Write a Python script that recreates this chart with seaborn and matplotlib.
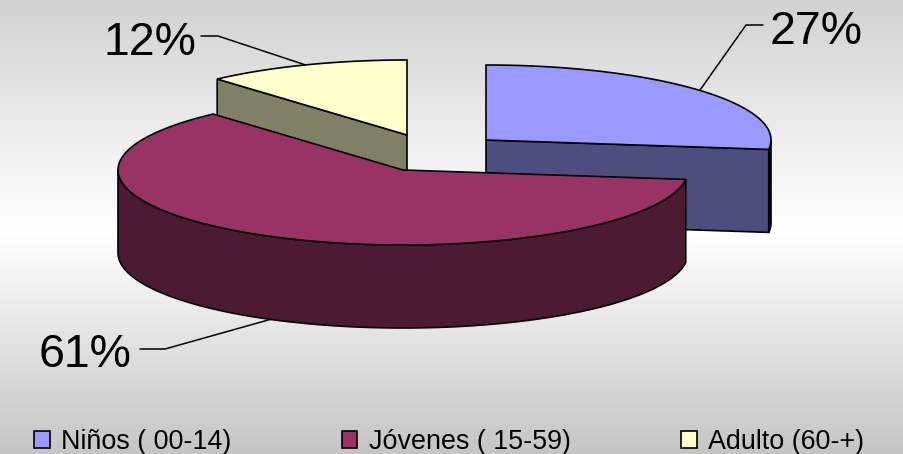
import numpy as np
import seaborn as sns
import matplotlib.pyplot as plt
from matplotlib.patches import Patch, Polygon

# datos
grupos = ['Niños ( 00-14)', 'Jóvenes ( 15-59)', 'Adulto (60-+)']
porcentajes = [27.0, 61.4, 11.6]
colores = ['#9999FF', '#993366', '#FFFFCC']

# geometria de la torta en pixeles
centros = [(486, 140), (403, 170), (407, 135)]
RX, RY, ALTO = 285, 75, 83


def punto(centro, ang):
    a = np.radians(ang)
    return centro[0] + RX * np.sin(a), centro[1] - RY * np.cos(a)


def arco(centro, a0, a1):
    angs = np.linspace(a0, a1, 120)
    return np.array([punto(centro, a) for a in angs])


def tapa(ax, centro, a0, a1, color, z):
    pts = np.vstack([[centro], arco(centro, a0, a1)])
    ax.add_patch(Polygon(pts, closed=True, fc=color, ec='black', lw=1.2, zorder=z))


def costado(ax, pts, color, z):
    # extruye una linea superior hacia abajo
    pts = np.asarray(pts)
    base = pts[::-1] + [0, ALTO]
    ax.add_patch(Polygon(np.vstack([pts, base]), closed=True, fc=color, ec='black', lw=1.2, zorder=z))


def oscuro(color):
    return tuple(c * 0.5 for c in color)


sns.set_theme(style='white')
plt.rcParams['font.family'] = ['Liberation Sans', 'DejaVu Sans']
paleta = sns.color_palette(colores)

fig = plt.figure(figsize=(9.04, 4.54), dpi=100)
ax = fig.add_axes([0, 0, 1, 1])
ax.set_xlim(0, 904)
ax.set_ylim(454, 0)
ax.axis('off')

# fondo degradado
yy = np.arange(454)
grad = np.interp(yy, [0, 230, 453], [0.82, 1.0, 0.77]).reshape(-1, 1)
ax.imshow(grad, cmap='gray', vmin=0, vmax=1, extent=(0, 904, 454, 0), aspect='auto', zorder=0)

# angulos de cada porcion, desde las 12 en sentido horario
fin = np.cumsum(porcentajes) * 3.6
ini = np.concatenate([[0], fin[:-1]])

# adulto (atras)
c = centros[2]
costado(ax, [c, punto(c, ini[2])], oscuro(paleta[2]), 2)
tapa(ax, c, ini[2], fin[2], paleta[2], 3)

# ninos
c = centros[0]
costado(ax, arco(c, 90, fin[0]), (0.05, 0.05, 0.1), 2)
costado(ax, [c, punto(c, fin[0])], oscuro(paleta[0]), 2)
tapa(ax, c, ini[0], fin[0], paleta[0], 3)

# jovenes (adelante)
c = centros[1]
costado(ax, arco(c, ini[1], 270), oscuro(paleta[1]), 4)
tapa(ax, c, ini[1], fin[1], paleta[1], 5)

# etiquetas con linea guia
medio = (ini + fin) / 2
ex, ey = punto(centros[0], medio[0])
ax.plot([763, 746, ex], [25, 25, ey], color='black', lw=1.1, zorder=6)
ax.text(770, 32, f'{porcentajes[0]:.0f}%', fontsize=33.5, color='black', ha='left', va='center', zorder=7)

ex, ey = punto(centros[1], medio[1])
ax.plot([140, 165, ex], [349, 349, ey + ALTO], color='black', lw=1.1, zorder=6)
ax.text(39, 355, f'{porcentajes[1]:.0f}%', fontsize=33.5, color='black', ha='left', va='center', zorder=7)

ex, ey = punto(centros[2], medio[2])
ax.plot([201, 218, ex], [36, 36, ey], color='black', lw=1.1, zorder=6)
ax.text(104, 43, f'{porcentajes[2]:.0f}%', fontsize=33.5, color='black', ha='left', va='center', zorder=7)

# leyenda
handles = [Patch(fc=col, ec='black', lw=1.2) for col in paleta]
ax.legend(handles, grupos, ncol=3, loc='lower left', bbox_to_anchor=(34, 455),
          bbox_transform=ax.transData, frameon=False, fontsize=19.4, labelcolor='black',
          borderpad=0, borderaxespad=0, columnspacing=4.1, handlelength=0.58,
          handleheight=0.58, handletextpad=0.42, labelspacing=0)

fig.savefig('out.png', dpi=100)
